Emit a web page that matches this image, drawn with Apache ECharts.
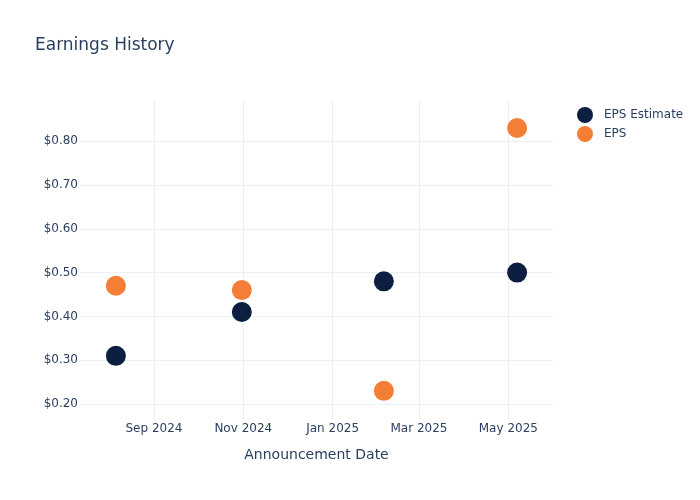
<!DOCTYPE html>
<html>
<head>
<meta charset="utf-8">
<script src="https://cdn.jsdelivr.net/npm/echarts@6/dist/echarts.min.js"></script>
<style>html,body{margin:0;padding:0;background:#fff}#c{width:700px;height:500px}</style>
</head>
<body>
<div id="c"></div>
<script>
const dates = ['2024-08-06', '2024-10-31', '2025-02-05', '2025-05-07'];
const epsEstimate = [0.31, 0.41, 0.48, 0.50];
const eps = [0.47, 0.46, 0.23, 0.83];
const xTicks = ['2024-09-01', '2024-11-01', '2025-01-01', '2025-03-01', '2025-05-01'];
const yTicks = [0.2, 0.3, 0.4, 0.5, 0.6, 0.7, 0.8];
const xRange = ['2024-07-12T12:00:00', '2025-05-31T12:00:00'];
const yRange = [0.1635, 0.894];

const MONTHS = ['Jan','Feb','Mar','Apr','May','Jun','Jul','Aug','Sep','Oct','Nov','Dec'];
const ts = s => new Date(s + (s.length === 10 ? 'T00:00:00Z' : 'Z')).getTime();
const font = 'DejaVu Sans';
const textColor = '#2a3f5f';
const gridColor = '#ebf0f8';

const chart = echarts.init(document.getElementById('c'));
chart.setOption({
  animation: false,
  textStyle: { fontFamily: font, color: textColor },
  title: {
    text: 'Earnings History', left: 30, top: 32,
    textStyle: { fontFamily: font, fontSize: 17, fontWeight: 'normal', color: textColor }
  },
  legend: {
    orient: 'vertical', left: 572, top: 102,
    itemWidth: 28, itemHeight: 16, itemGap: 3,
    icon: 'circle',
    textStyle: { fontFamily: font, fontSize: 12, color: textColor },
    data: ['EPS Estimate', 'EPS']
  },
  grid: { left: 80, right: 147, top: 100, bottom: 80, containLabel: false },
  xAxis: {
    type: 'value',
    min: ts(xRange[0]), max: ts(xRange[1]),
    name: 'Announcement Date', nameLocation: 'middle', nameGap: 28,
    nameTextStyle: { fontFamily: font, fontSize: 14, color: textColor },
    axisLine: { show: false },
    axisTick: { show: false, customValues: xTicks.map(ts) },
    splitLine: { show: true, lineStyle: { color: gridColor, width: 1 } },
    axisLabel: {
      customValues: xTicks.map(ts), margin: 3,
      fontFamily: font, fontSize: 12, color: textColor,
      formatter: v => { const d = new Date(v); return MONTHS[d.getUTCMonth()] + ' ' + d.getUTCFullYear(); }
    }
  },
  yAxis: {
    type: 'value',
    min: yRange[0], max: yRange[1],
    axisLine: { show: false },
    axisTick: { show: false, customValues: yTicks },
    splitLine: { show: true, lineStyle: { color: gridColor, width: 1 } },
    axisLabel: {
      customValues: yTicks, margin: 2,
      fontFamily: font, fontSize: 12, color: textColor,
      formatter: v => '$' + v.toFixed(2)
    }
  },
  series: [
    {
      name: 'EPS Estimate', type: 'scatter', symbolSize: 20,
      itemStyle: { color: '#0c1f40', opacity: 1 },
      data: dates.map((d, i) => [ts(d), epsEstimate[i]])
    },
    {
      name: 'EPS', type: 'scatter', symbolSize: 20,
      itemStyle: { color: '#f47e35', opacity: 1 },
      data: dates.map((d, i) => [ts(d), eps[i]])
    }
  ]
});
</script>
</body>
</html>
